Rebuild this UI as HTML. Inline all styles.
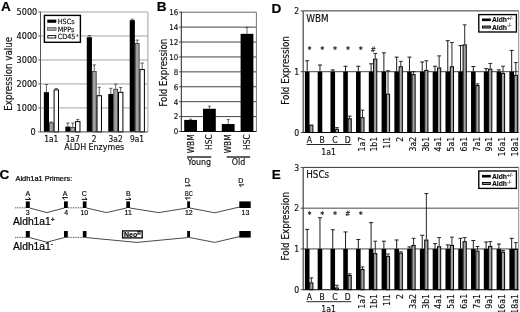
<!DOCTYPE html>
<html lang="en"><head><meta charset="utf-8"><title>Figure</title>
<style>html,body{margin:0;padding:0;background:#fff;}svg{display:block;}</style></head>
<body>
<svg style="will-change:transform;filter:grayscale(1) blur(0.35px)" width="520" height="312" viewBox="0 0 520 312">
<rect width="520" height="312" fill="#fff"/>
<line x1="40.50" y1="107.92" x2="147.90" y2="107.92" stroke="#a2a2a2" stroke-width="1.0"/>
<line x1="40.50" y1="83.94" x2="147.90" y2="83.94" stroke="#a2a2a2" stroke-width="1.0"/>
<line x1="40.50" y1="59.96" x2="147.90" y2="59.96" stroke="#a2a2a2" stroke-width="1.0"/>
<line x1="40.50" y1="35.98" x2="147.90" y2="35.98" stroke="#a2a2a2" stroke-width="1.0"/>
<line x1="40.50" y1="12.00" x2="147.90" y2="12.00" stroke="#a2a2a2" stroke-width="1.0"/>
<line x1="147.90" y1="12.00" x2="147.90" y2="131.90" stroke="#a2a2a2" stroke-width="1.0"/>
<line x1="40.50" y1="11.50" x2="40.50" y2="131.90" stroke="#555" stroke-width="1.0"/>
<line x1="38.00" y1="131.90" x2="40.50" y2="131.90" stroke="#666" stroke-width="0.9"/>
<text x="35.70" y="135.20" font-size="9" text-anchor="end" font-family='"DejaVu Sans Condensed", "DejaVu Sans", "Liberation Sans", sans-serif' font-weight="normal" fill="#111" stroke="#111" stroke-width="0.16">0</text>
<line x1="38.00" y1="107.92" x2="40.50" y2="107.92" stroke="#666" stroke-width="0.9"/>
<text x="37.20" y="111.22" font-size="9" text-anchor="end" font-family='"DejaVu Sans Condensed", "DejaVu Sans", "Liberation Sans", sans-serif' font-weight="normal" fill="#111" stroke="#111" stroke-width="0.16">1000</text>
<line x1="38.00" y1="83.94" x2="40.50" y2="83.94" stroke="#666" stroke-width="0.9"/>
<text x="37.20" y="87.24" font-size="9" text-anchor="end" font-family='"DejaVu Sans Condensed", "DejaVu Sans", "Liberation Sans", sans-serif' font-weight="normal" fill="#111" stroke="#111" stroke-width="0.16">2000</text>
<line x1="38.00" y1="59.96" x2="40.50" y2="59.96" stroke="#666" stroke-width="0.9"/>
<text x="37.20" y="63.26" font-size="9" text-anchor="end" font-family='"DejaVu Sans Condensed", "DejaVu Sans", "Liberation Sans", sans-serif' font-weight="normal" fill="#111" stroke="#111" stroke-width="0.16">3000</text>
<line x1="38.00" y1="35.98" x2="40.50" y2="35.98" stroke="#666" stroke-width="0.9"/>
<text x="37.20" y="39.28" font-size="9" text-anchor="end" font-family='"DejaVu Sans Condensed", "DejaVu Sans", "Liberation Sans", sans-serif' font-weight="normal" fill="#111" stroke="#111" stroke-width="0.16">4000</text>
<line x1="38.00" y1="12.00" x2="40.50" y2="12.00" stroke="#666" stroke-width="0.9"/>
<text x="37.20" y="15.30" font-size="9" text-anchor="end" font-family='"DejaVu Sans Condensed", "DejaVu Sans", "Liberation Sans", sans-serif' font-weight="normal" fill="#111" stroke="#111" stroke-width="0.16">5000</text>
<rect x="43.85" y="92.17" width="5.15" height="39.73" fill="#000" stroke="none" stroke-width="0"/>
<line x1="46.43" y1="92.17" x2="46.43" y2="84.49" stroke="#3a3a3a" stroke-width="0.8"/>
<line x1="44.83" y1="84.49" x2="48.03" y2="84.49" stroke="#3a3a3a" stroke-width="0.8"/>
<rect x="49.35" y="122.85" width="3.90" height="9.05" fill="#a0a0a0" stroke="#222" stroke-width="0.7"/>
<line x1="51.30" y1="122.50" x2="51.30" y2="122.02" stroke="#3a3a3a" stroke-width="0.8"/>
<line x1="49.70" y1="122.02" x2="52.90" y2="122.02" stroke="#3a3a3a" stroke-width="0.8"/>
<rect x="54.10" y="89.96" width="4.40" height="41.94" fill="#fff" stroke="#000" stroke-width="1.0"/>
<line x1="56.30" y1="89.46" x2="56.30" y2="88.50" stroke="#3a3a3a" stroke-width="0.8"/>
<line x1="54.70" y1="88.50" x2="57.90" y2="88.50" stroke="#3a3a3a" stroke-width="0.8"/>
<text x="51.20" y="141.60" font-size="8.3" text-anchor="middle" font-family='"DejaVu Sans Condensed", "DejaVu Sans", "Liberation Sans", sans-serif' font-weight="normal" fill="#111" stroke="#111" stroke-width="0.16">1a1</text>
<rect x="65.32" y="126.58" width="5.15" height="5.32" fill="#000" stroke="none" stroke-width="0"/>
<line x1="67.89" y1="126.58" x2="67.89" y2="122.98" stroke="#3a3a3a" stroke-width="0.8"/>
<line x1="66.30" y1="122.98" x2="69.49" y2="122.98" stroke="#3a3a3a" stroke-width="0.8"/>
<rect x="70.82" y="127.45" width="3.90" height="4.45" fill="#a0a0a0" stroke="#222" stroke-width="0.7"/>
<line x1="72.77" y1="127.10" x2="72.77" y2="123.03" stroke="#3a3a3a" stroke-width="0.8"/>
<line x1="71.17" y1="123.03" x2="74.37" y2="123.03" stroke="#3a3a3a" stroke-width="0.8"/>
<rect x="75.57" y="121.61" width="4.40" height="10.29" fill="#fff" stroke="#000" stroke-width="1.0"/>
<line x1="77.77" y1="121.11" x2="77.77" y2="119.43" stroke="#3a3a3a" stroke-width="0.8"/>
<line x1="76.17" y1="119.43" x2="79.37" y2="119.43" stroke="#3a3a3a" stroke-width="0.8"/>
<text x="72.67" y="141.60" font-size="8.3" text-anchor="middle" font-family='"DejaVu Sans Condensed", "DejaVu Sans", "Liberation Sans", sans-serif' font-weight="normal" fill="#111" stroke="#111" stroke-width="0.16">1a7</text>
<rect x="86.79" y="37.18" width="5.15" height="94.72" fill="#000" stroke="none" stroke-width="0"/>
<line x1="89.36" y1="37.18" x2="89.36" y2="35.50" stroke="#3a3a3a" stroke-width="0.8"/>
<line x1="87.77" y1="35.50" x2="90.96" y2="35.50" stroke="#3a3a3a" stroke-width="0.8"/>
<rect x="92.29" y="71.46" width="3.90" height="60.44" fill="#a0a0a0" stroke="#222" stroke-width="0.7"/>
<line x1="94.24" y1="71.11" x2="94.24" y2="64.88" stroke="#3a3a3a" stroke-width="0.8"/>
<line x1="92.64" y1="64.88" x2="95.84" y2="64.88" stroke="#3a3a3a" stroke-width="0.8"/>
<rect x="97.04" y="95.71" width="4.40" height="36.19" fill="#fff" stroke="#000" stroke-width="1.0"/>
<line x1="99.24" y1="95.21" x2="99.24" y2="87.30" stroke="#3a3a3a" stroke-width="0.8"/>
<line x1="97.64" y1="87.30" x2="100.84" y2="87.30" stroke="#3a3a3a" stroke-width="0.8"/>
<text x="94.14" y="141.60" font-size="8.3" text-anchor="middle" font-family='"DejaVu Sans Condensed", "DejaVu Sans", "Liberation Sans", sans-serif' font-weight="normal" fill="#111" stroke="#111" stroke-width="0.16">2</text>
<rect x="108.26" y="93.96" width="5.15" height="37.94" fill="#000" stroke="none" stroke-width="0"/>
<line x1="110.83" y1="93.96" x2="110.83" y2="88.33" stroke="#3a3a3a" stroke-width="0.8"/>
<line x1="109.23" y1="88.33" x2="112.43" y2="88.33" stroke="#3a3a3a" stroke-width="0.8"/>
<rect x="113.76" y="89.21" width="3.90" height="42.69" fill="#a0a0a0" stroke="#222" stroke-width="0.7"/>
<line x1="115.71" y1="88.86" x2="115.71" y2="84.06" stroke="#3a3a3a" stroke-width="0.8"/>
<line x1="114.11" y1="84.06" x2="117.31" y2="84.06" stroke="#3a3a3a" stroke-width="0.8"/>
<rect x="118.51" y="92.35" width="4.40" height="39.55" fill="#fff" stroke="#000" stroke-width="1.0"/>
<line x1="120.71" y1="91.85" x2="120.71" y2="87.54" stroke="#3a3a3a" stroke-width="0.8"/>
<line x1="119.11" y1="87.54" x2="122.31" y2="87.54" stroke="#3a3a3a" stroke-width="0.8"/>
<text x="115.61" y="141.60" font-size="8.3" text-anchor="middle" font-family='"DejaVu Sans Condensed", "DejaVu Sans", "Liberation Sans", sans-serif' font-weight="normal" fill="#111" stroke="#111" stroke-width="0.16">3a2</text>
<rect x="129.73" y="20.15" width="5.15" height="111.75" fill="#000" stroke="none" stroke-width="0"/>
<line x1="132.30" y1="20.15" x2="132.30" y2="19.19" stroke="#3a3a3a" stroke-width="0.8"/>
<line x1="130.70" y1="19.19" x2="133.90" y2="19.19" stroke="#3a3a3a" stroke-width="0.8"/>
<rect x="135.23" y="43.52" width="3.90" height="88.38" fill="#a0a0a0" stroke="#222" stroke-width="0.7"/>
<line x1="137.18" y1="43.17" x2="137.18" y2="40.06" stroke="#3a3a3a" stroke-width="0.8"/>
<line x1="135.58" y1="40.06" x2="138.78" y2="40.06" stroke="#3a3a3a" stroke-width="0.8"/>
<rect x="139.98" y="69.57" width="4.40" height="62.33" fill="#fff" stroke="#000" stroke-width="1.0"/>
<line x1="142.18" y1="69.07" x2="142.18" y2="63.08" stroke="#3a3a3a" stroke-width="0.8"/>
<line x1="140.58" y1="63.08" x2="143.78" y2="63.08" stroke="#3a3a3a" stroke-width="0.8"/>
<text x="137.08" y="141.60" font-size="8.3" text-anchor="middle" font-family='"DejaVu Sans Condensed", "DejaVu Sans", "Liberation Sans", sans-serif' font-weight="normal" fill="#111" stroke="#111" stroke-width="0.16">9a1</text>
<line x1="40.00" y1="131.90" x2="147.90" y2="131.90" stroke="#444" stroke-width="1"/>
<text x="94.20" y="149.60" font-size="8.8" text-anchor="middle" font-family='"DejaVu Sans Condensed", "DejaVu Sans", "Liberation Sans", sans-serif' font-weight="normal" fill="#111" stroke="#111" stroke-width="0.16">ALDH Enzymes</text>
<text x="11.90" y="73.80" font-size="9.7" text-anchor="middle" font-family='"DejaVu Sans Condensed", "DejaVu Sans", "Liberation Sans", sans-serif' font-weight="normal" fill="#111" transform="rotate(-90 11.90 73.80)" stroke="#111" stroke-width="0.16">Expression value</text>
<rect x="44.4" y="15.4" width="36.0" height="26.9" fill="#fff" stroke="#000" stroke-width="1.4"/>
<rect x="47.30" y="19.60" width="9.00" height="3.20" fill="#000" stroke="none" stroke-width="0"/>
<text x="57.70" y="23.80" font-size="7.2" text-anchor="start" font-family='"DejaVu Sans Condensed", "DejaVu Sans", "Liberation Sans", sans-serif' font-weight="normal" fill="#111" stroke="#111" stroke-width="0.16">HSCs</text>
<rect x="47.50" y="27.60" width="8.60" height="2.80" fill="#a0a0a0" stroke="#444" stroke-width="0.6"/>
<text x="57.70" y="31.60" font-size="7.2" text-anchor="start" font-family='"DejaVu Sans Condensed", "DejaVu Sans", "Liberation Sans", sans-serif' font-weight="normal" fill="#111" stroke="#111" stroke-width="0.16">MPPs</text>
<rect x="47.80" y="35.60" width="8.00" height="2.40" fill="#fff" stroke="#000" stroke-width="0.9"/>
<text x="57.70" y="39.40" font-size="7.2" text-anchor="start" font-family='"DejaVu Sans Condensed", "DejaVu Sans", "Liberation Sans", sans-serif' font-weight="normal" fill="#111" stroke="#111" stroke-width="0.16">CD45<tspan dy="-2.2" font-size="4.5">+</tspan></text>
<text x="0.90" y="10.80" font-size="13.6" text-anchor="start" font-family='"Liberation Sans", "DejaVu Sans", sans-serif' font-weight="bold" fill="#000" stroke="#000" stroke-width="0.16">A</text>
<line x1="181.30" y1="116.59" x2="256.40" y2="116.59" stroke="#303030" stroke-width="0.9"/>
<line x1="181.30" y1="101.67" x2="256.40" y2="101.67" stroke="#303030" stroke-width="0.9"/>
<line x1="181.30" y1="86.76" x2="256.40" y2="86.76" stroke="#303030" stroke-width="0.9"/>
<line x1="181.30" y1="71.85" x2="256.40" y2="71.85" stroke="#303030" stroke-width="0.9"/>
<line x1="181.30" y1="56.94" x2="256.40" y2="56.94" stroke="#303030" stroke-width="0.9"/>
<line x1="181.30" y1="42.03" x2="256.40" y2="42.03" stroke="#303030" stroke-width="0.9"/>
<line x1="181.30" y1="27.11" x2="256.40" y2="27.11" stroke="#303030" stroke-width="0.9"/>
<line x1="181.30" y1="12.20" x2="256.40" y2="12.20" stroke="#666" stroke-width="1.0"/>
<line x1="256.40" y1="12.20" x2="256.40" y2="131.50" stroke="#777" stroke-width="1.0"/>
<line x1="181.30" y1="11.70" x2="181.30" y2="131.50" stroke="#222" stroke-width="1.0"/>
<line x1="180.80" y1="131.50" x2="256.40" y2="131.50" stroke="#111" stroke-width="1.0"/>
<line x1="178.80" y1="131.50" x2="181.30" y2="131.50" stroke="#303030" stroke-width="0.8"/>
<text x="178.30" y="134.40" font-size="7.9" text-anchor="end" font-family='"DejaVu Sans Condensed", "DejaVu Sans", "Liberation Sans", sans-serif' font-weight="normal" fill="#111" stroke="#111" stroke-width="0.16">0</text>
<line x1="178.80" y1="116.59" x2="181.30" y2="116.59" stroke="#303030" stroke-width="0.8"/>
<text x="178.30" y="119.49" font-size="7.9" text-anchor="end" font-family='"DejaVu Sans Condensed", "DejaVu Sans", "Liberation Sans", sans-serif' font-weight="normal" fill="#111" stroke="#111" stroke-width="0.16">2</text>
<line x1="178.80" y1="101.67" x2="181.30" y2="101.67" stroke="#303030" stroke-width="0.8"/>
<text x="178.30" y="104.58" font-size="7.9" text-anchor="end" font-family='"DejaVu Sans Condensed", "DejaVu Sans", "Liberation Sans", sans-serif' font-weight="normal" fill="#111" stroke="#111" stroke-width="0.16">4</text>
<line x1="178.80" y1="86.76" x2="181.30" y2="86.76" stroke="#303030" stroke-width="0.8"/>
<text x="178.30" y="89.66" font-size="7.9" text-anchor="end" font-family='"DejaVu Sans Condensed", "DejaVu Sans", "Liberation Sans", sans-serif' font-weight="normal" fill="#111" stroke="#111" stroke-width="0.16">6</text>
<line x1="178.80" y1="71.85" x2="181.30" y2="71.85" stroke="#303030" stroke-width="0.8"/>
<text x="178.30" y="74.75" font-size="7.9" text-anchor="end" font-family='"DejaVu Sans Condensed", "DejaVu Sans", "Liberation Sans", sans-serif' font-weight="normal" fill="#111" stroke="#111" stroke-width="0.16">8</text>
<line x1="178.80" y1="56.94" x2="181.30" y2="56.94" stroke="#303030" stroke-width="0.8"/>
<text x="178.30" y="59.84" font-size="7.9" text-anchor="end" font-family='"DejaVu Sans Condensed", "DejaVu Sans", "Liberation Sans", sans-serif' font-weight="normal" fill="#111" stroke="#111" stroke-width="0.16">10</text>
<line x1="178.80" y1="42.03" x2="181.30" y2="42.03" stroke="#303030" stroke-width="0.8"/>
<text x="178.30" y="44.93" font-size="7.9" text-anchor="end" font-family='"DejaVu Sans Condensed", "DejaVu Sans", "Liberation Sans", sans-serif' font-weight="normal" fill="#111" stroke="#111" stroke-width="0.16">12</text>
<line x1="178.80" y1="27.11" x2="181.30" y2="27.11" stroke="#303030" stroke-width="0.8"/>
<text x="178.30" y="30.01" font-size="7.9" text-anchor="end" font-family='"DejaVu Sans Condensed", "DejaVu Sans", "Liberation Sans", sans-serif' font-weight="normal" fill="#111" stroke="#111" stroke-width="0.16">14</text>
<line x1="178.80" y1="12.20" x2="181.30" y2="12.20" stroke="#303030" stroke-width="0.8"/>
<text x="178.30" y="15.10" font-size="7.9" text-anchor="end" font-family='"DejaVu Sans Condensed", "DejaVu Sans", "Liberation Sans", sans-serif' font-weight="normal" fill="#111" stroke="#111" stroke-width="0.16">16</text>
<rect x="184.20" y="119.94" width="12.80" height="11.56" fill="#000" stroke="none" stroke-width="0"/>
<line x1="190.60" y1="119.94" x2="190.60" y2="119.20" stroke="#222" stroke-width="0.7"/>
<line x1="189.10" y1="119.20" x2="192.10" y2="119.20" stroke="#222" stroke-width="0.7"/>
<text x="193.60" y="134.30" font-size="8.3" text-anchor="end" font-family='"DejaVu Sans Condensed", "DejaVu Sans", "Liberation Sans", sans-serif' font-weight="normal" fill="#111" transform="rotate(-90 193.60 134.30)" stroke="#111" stroke-width="0.16">WBM</text>
<rect x="203.00" y="108.76" width="12.80" height="22.74" fill="#000" stroke="none" stroke-width="0"/>
<line x1="209.40" y1="108.76" x2="209.40" y2="106.15" stroke="#222" stroke-width="0.7"/>
<line x1="207.90" y1="106.15" x2="210.90" y2="106.15" stroke="#222" stroke-width="0.7"/>
<text x="212.40" y="134.30" font-size="8.3" text-anchor="end" font-family='"DejaVu Sans Condensed", "DejaVu Sans", "Liberation Sans", sans-serif' font-weight="normal" fill="#111" transform="rotate(-90 212.40 134.30)" stroke="#111" stroke-width="0.16">HSC</text>
<rect x="221.80" y="124.04" width="12.80" height="7.46" fill="#000" stroke="none" stroke-width="0"/>
<line x1="228.20" y1="124.04" x2="228.20" y2="119.57" stroke="#222" stroke-width="0.7"/>
<line x1="226.70" y1="119.57" x2="229.70" y2="119.57" stroke="#222" stroke-width="0.7"/>
<text x="231.20" y="134.30" font-size="8.3" text-anchor="end" font-family='"DejaVu Sans Condensed", "DejaVu Sans", "Liberation Sans", sans-serif' font-weight="normal" fill="#111" transform="rotate(-90 231.20 134.30)" stroke="#111" stroke-width="0.16">WBM</text>
<rect x="240.60" y="33.82" width="12.80" height="97.68" fill="#000" stroke="none" stroke-width="0"/>
<line x1="247.00" y1="33.82" x2="247.00" y2="27.49" stroke="#222" stroke-width="0.7"/>
<line x1="245.50" y1="27.49" x2="248.50" y2="27.49" stroke="#222" stroke-width="0.7"/>
<text x="250.00" y="134.30" font-size="8.3" text-anchor="end" font-family='"DejaVu Sans Condensed", "DejaVu Sans", "Liberation Sans", sans-serif' font-weight="normal" fill="#111" transform="rotate(-90 250.00 134.30)" stroke="#111" stroke-width="0.16">HSC</text>
<text x="167.20" y="72.60" font-size="9.7" text-anchor="middle" font-family='"DejaVu Sans Condensed", "DejaVu Sans", "Liberation Sans", sans-serif' font-weight="normal" fill="#111" transform="rotate(-90 167.20 72.60)" stroke="#111" stroke-width="0.16">Fold Expression</text>
<line x1="187.00" y1="157.00" x2="211.30" y2="157.00" stroke="#000" stroke-width="1.25"/>
<line x1="226.80" y1="157.00" x2="250.00" y2="157.00" stroke="#000" stroke-width="1.25"/>
<text x="199.30" y="165.00" font-size="8.8" text-anchor="middle" font-family='"DejaVu Sans Condensed", "DejaVu Sans", "Liberation Sans", sans-serif' font-weight="normal" fill="#111" stroke="#111" stroke-width="0.16">Young</text>
<text x="238.50" y="165.00" font-size="8.8" text-anchor="middle" font-family='"DejaVu Sans Condensed", "DejaVu Sans", "Liberation Sans", sans-serif' font-weight="normal" fill="#111" stroke="#111" stroke-width="0.16">Old</text>
<text x="156.80" y="10.80" font-size="13.6" text-anchor="start" font-family='"Liberation Sans", "DejaVu Sans", sans-serif' font-weight="bold" fill="#000" stroke="#000" stroke-width="0.16">B</text>
<text x="-0.40" y="178.80" font-size="13.6" text-anchor="start" font-family='"Liberation Sans", "DejaVu Sans", sans-serif' font-weight="bold" fill="#000" stroke="#000" stroke-width="0.16">C</text>
<text x="15.50" y="180.80" font-size="7.4" text-anchor="start" font-family='"Liberation Sans", "DejaVu Sans", sans-serif' font-weight="normal" fill="#000" stroke="#000" stroke-width="0.22">Aldh1a1 Primers:</text>
<line x1="15.20" y1="207.80" x2="26.00" y2="207.80" stroke="#2a2a2a" stroke-width="0.9" stroke-dasharray="0.9 0.8"/>
<line x1="67.90" y1="207.80" x2="83.00" y2="207.80" stroke="#2a2a2a" stroke-width="0.9" stroke-dasharray="0.9 0.8"/>
<polyline points="29.6,208.0 46.9,212.6 64.2,208.0" fill="none" stroke="#1a1a1a" stroke-width="0.8"/>
<polyline points="86.4,208.0 106.5,212.6 126.5,208.0" fill="none" stroke="#1a1a1a" stroke-width="0.8"/>
<polyline points="129.8,208.0 158.6,212.6 187.4,208.0" fill="none" stroke="#1a1a1a" stroke-width="0.8"/>
<polyline points="189.8,208.0 214.7,212.8 239.6,207.0" fill="none" stroke="#1a1a1a" stroke-width="0.8"/>
<rect x="25.80" y="201.40" width="4.00" height="6.60" fill="#000" stroke="none" stroke-width="0"/>
<rect x="64.00" y="201.40" width="3.80" height="6.60" fill="#000" stroke="none" stroke-width="0"/>
<rect x="82.80" y="201.40" width="3.70" height="6.60" fill="#000" stroke="none" stroke-width="0"/>
<rect x="126.30" y="201.40" width="3.70" height="6.60" fill="#000" stroke="none" stroke-width="0"/>
<rect x="187.20" y="201.40" width="2.80" height="6.60" fill="#000" stroke="none" stroke-width="0"/>
<rect x="239.30" y="201.40" width="11.40" height="6.60" fill="#000" stroke="none" stroke-width="0"/>
<line x1="15.20" y1="237.40" x2="26.00" y2="237.40" stroke="#2a2a2a" stroke-width="0.9" stroke-dasharray="0.9 0.8"/>
<line x1="67.90" y1="237.40" x2="83.00" y2="237.40" stroke="#2a2a2a" stroke-width="0.9" stroke-dasharray="0.9 0.8"/>
<polyline points="29.6,237.6 46.9,242.2 64.2,237.6" fill="none" stroke="#1a1a1a" stroke-width="0.8"/>
<polyline points="86.4,237.6 136.9,242.4 187.4,237.6" fill="none" stroke="#1a1a1a" stroke-width="0.8"/>
<polyline points="189.8,237.6 214.7,242.4 239.6,236.6" fill="none" stroke="#1a1a1a" stroke-width="0.8"/>
<rect x="25.80" y="231.00" width="4.00" height="6.60" fill="#000" stroke="none" stroke-width="0"/>
<rect x="64.00" y="231.00" width="3.80" height="6.60" fill="#000" stroke="none" stroke-width="0"/>
<rect x="82.80" y="231.00" width="3.70" height="6.60" fill="#000" stroke="none" stroke-width="0"/>
<rect x="187.20" y="231.00" width="2.80" height="6.60" fill="#000" stroke="none" stroke-width="0"/>
<rect x="239.30" y="231.00" width="11.40" height="6.60" fill="#000" stroke="none" stroke-width="0"/>
<text x="27.80" y="215.20" font-size="7.0" text-anchor="middle" font-family='"Liberation Sans", "DejaVu Sans", sans-serif' font-weight="normal" fill="#000" stroke="#000" stroke-width="0.16">3</text>
<text x="66.20" y="215.20" font-size="7.0" text-anchor="middle" font-family='"Liberation Sans", "DejaVu Sans", sans-serif' font-weight="normal" fill="#000" stroke="#000" stroke-width="0.16">4</text>
<text x="84.30" y="215.20" font-size="7.0" text-anchor="middle" font-family='"Liberation Sans", "DejaVu Sans", sans-serif' font-weight="normal" fill="#000" stroke="#000" stroke-width="0.16">10</text>
<text x="128.20" y="215.20" font-size="7.0" text-anchor="middle" font-family='"Liberation Sans", "DejaVu Sans", sans-serif' font-weight="normal" fill="#000" stroke="#000" stroke-width="0.16">11</text>
<text x="188.80" y="215.20" font-size="7.0" text-anchor="middle" font-family='"Liberation Sans", "DejaVu Sans", sans-serif' font-weight="normal" fill="#000" stroke="#000" stroke-width="0.16">12</text>
<text x="245.40" y="215.20" font-size="7.0" text-anchor="middle" font-family='"Liberation Sans", "DejaVu Sans", sans-serif' font-weight="normal" fill="#000" stroke="#000" stroke-width="0.16">13</text>
<text x="27.90" y="195.80" font-size="7.0" text-anchor="middle" font-family='"Liberation Sans", "DejaVu Sans", sans-serif' font-weight="normal" fill="#000" stroke="#000" stroke-width="0.16">A</text>
<polyline points="25.2,199.4 30.6,199.4 28.4,197.3" fill="none" stroke="#000" stroke-width="0.95" stroke-linejoin="miter"/>
<text x="65.10" y="195.80" font-size="7.0" text-anchor="middle" font-family='"Liberation Sans", "DejaVu Sans", sans-serif' font-weight="normal" fill="#000" stroke="#000" stroke-width="0.16">A</text>
<polyline points="67.8,197.6 62.4,197.6 64.5,199.6" fill="none" stroke="#000" stroke-width="0.95" stroke-linejoin="miter"/>
<text x="84.40" y="195.80" font-size="7.0" text-anchor="middle" font-family='"Liberation Sans", "DejaVu Sans", sans-serif' font-weight="normal" fill="#000" stroke="#000" stroke-width="0.16">C</text>
<polyline points="81.7,199.4 87.1,199.4 84.9,197.3" fill="none" stroke="#000" stroke-width="0.95" stroke-linejoin="miter"/>
<text x="128.30" y="195.80" font-size="7.0" text-anchor="middle" font-family='"Liberation Sans", "DejaVu Sans", sans-serif' font-weight="normal" fill="#000" stroke="#000" stroke-width="0.16">B</text>
<polyline points="125.6,199.4 131.0,199.4 128.8,197.3" fill="none" stroke="#000" stroke-width="0.95" stroke-linejoin="miter"/>
<text x="187.20" y="182.60" font-size="7.0" text-anchor="middle" font-family='"Liberation Sans", "DejaVu Sans", sans-serif' font-weight="normal" fill="#000" stroke="#000" stroke-width="0.16">D</text>
<polyline points="185.0,185.8 190.4,185.8 188.2,183.7" fill="none" stroke="#000" stroke-width="0.95" stroke-linejoin="miter"/>
<text x="188.90" y="195.80" font-size="7.2" text-anchor="middle" font-family='"Liberation Sans", "DejaVu Sans", sans-serif' font-weight="normal" fill="#000" textLength="7.8" lengthAdjust="spacingAndGlyphs" stroke="#000" stroke-width="0.16">BC</text>
<polyline points="190.5,198.0 185.3,198.0 187.4,200.0" fill="none" stroke="#000" stroke-width="0.95" stroke-linejoin="miter"/>
<text x="240.80" y="182.60" font-size="7.0" text-anchor="middle" font-family='"Liberation Sans", "DejaVu Sans", sans-serif' font-weight="normal" fill="#000" stroke="#000" stroke-width="0.16">D</text>
<polyline points="244.0,184.9 239.2,184.9 241.3,186.9" fill="none" stroke="#000" stroke-width="0.95" stroke-linejoin="miter"/>
<text x="13.00" y="224.90" font-size="10.3" text-anchor="start" font-family='"Liberation Sans", "DejaVu Sans", sans-serif' font-weight="normal" fill="#000" stroke="#000" stroke-width="0.22">Aldh1a1<tspan dy="-3.2" font-size="7">+</tspan></text>
<text x="13.00" y="249.90" font-size="10.3" text-anchor="start" font-family='"Liberation Sans", "DejaVu Sans", sans-serif' font-weight="normal" fill="#000" stroke="#000" stroke-width="0.22">Aldh1a1<tspan dy="-3.6" font-size="7">-</tspan></text>
<rect x="122.6" y="230.9" width="19.6" height="7.0" fill="#fff" stroke="#000" stroke-width="1.3"/>
<text x="132.40" y="237.00" font-size="7.0" text-anchor="middle" font-family='"Liberation Sans", "DejaVu Sans", sans-serif' font-weight="bold" fill="#000" stroke="#000" stroke-width="0.16">Neo<tspan dy="-1.6" font-size="5">R</tspan></text>
<line x1="303.20" y1="71.70" x2="518.70" y2="71.70" stroke="#333" stroke-width="0.9"/>
<line x1="303.20" y1="10.90" x2="518.70" y2="10.90" stroke="#333" stroke-width="1"/>
<line x1="303.20" y1="10.90" x2="303.20" y2="132.50" stroke="#444" stroke-width="1.2"/>
<line x1="518.70" y1="10.90" x2="518.70" y2="132.50" stroke="#8a8a8a" stroke-width="1.0"/>
<line x1="300.70" y1="132.50" x2="303.20" y2="132.50" stroke="#333" stroke-width="0.9"/>
<text x="299.20" y="135.60" font-size="8.6" text-anchor="end" font-family='"DejaVu Sans Condensed", "DejaVu Sans", "Liberation Sans", sans-serif' font-weight="normal" fill="#111" stroke="#111" stroke-width="0.16">0</text>
<line x1="300.70" y1="71.70" x2="303.20" y2="71.70" stroke="#333" stroke-width="0.9"/>
<text x="299.20" y="74.80" font-size="8.6" text-anchor="end" font-family='"DejaVu Sans Condensed", "DejaVu Sans", "Liberation Sans", sans-serif' font-weight="normal" fill="#111" stroke="#111" stroke-width="0.16">1</text>
<line x1="300.70" y1="10.90" x2="303.20" y2="10.90" stroke="#333" stroke-width="0.9"/>
<text x="299.20" y="14.00" font-size="8.6" text-anchor="end" font-family='"DejaVu Sans Condensed", "DejaVu Sans", "Liberation Sans", sans-serif' font-weight="normal" fill="#111" stroke="#111" stroke-width="0.16">2</text>
<rect x="304.90" y="71.70" width="4.60" height="60.80" fill="#000" stroke="none" stroke-width="0"/>
<line x1="307.20" y1="71.70" x2="307.20" y2="60.76" stroke="#1c1c1c" stroke-width="1.0"/>
<line x1="305.20" y1="60.76" x2="309.20" y2="60.76" stroke="#1c1c1c" stroke-width="1.0"/>
<rect x="309.70" y="125.10" width="3.20" height="7.40" fill="#a4a4a4" stroke="#000" stroke-width="1.0"/>
<text x="309.40" y="142.90" font-size="8.5" text-anchor="middle" font-family='"DejaVu Sans Condensed", "DejaVu Sans", "Liberation Sans", sans-serif' font-weight="normal" fill="#111" stroke="#111" stroke-width="0.16">A</text>
<rect x="317.68" y="71.70" width="4.60" height="60.80" fill="#000" stroke="none" stroke-width="0"/>
<line x1="319.98" y1="71.70" x2="319.98" y2="65.01" stroke="#1c1c1c" stroke-width="1.0"/>
<line x1="317.98" y1="65.01" x2="321.98" y2="65.01" stroke="#1c1c1c" stroke-width="1.0"/>
<text x="322.18" y="142.90" font-size="8.5" text-anchor="middle" font-family='"DejaVu Sans Condensed", "DejaVu Sans", "Liberation Sans", sans-serif' font-weight="normal" fill="#111" stroke="#111" stroke-width="0.16">B</text>
<rect x="330.46" y="71.70" width="4.60" height="60.80" fill="#000" stroke="none" stroke-width="0"/>
<line x1="332.76" y1="71.70" x2="332.76" y2="69.88" stroke="#1c1c1c" stroke-width="1.0"/>
<line x1="330.76" y1="69.88" x2="334.76" y2="69.88" stroke="#1c1c1c" stroke-width="1.0"/>
<rect x="335.26" y="129.35" width="3.20" height="3.15" fill="#a4a4a4" stroke="#000" stroke-width="1.0"/>
<line x1="336.91" y1="128.85" x2="336.91" y2="127.64" stroke="#2a2a2a" stroke-width="1.0"/>
<line x1="335.01" y1="127.64" x2="338.81" y2="127.64" stroke="#2a2a2a" stroke-width="1.0"/>
<text x="334.96" y="142.90" font-size="8.5" text-anchor="middle" font-family='"DejaVu Sans Condensed", "DejaVu Sans", "Liberation Sans", sans-serif' font-weight="normal" fill="#111" stroke="#111" stroke-width="0.16">C</text>
<rect x="343.24" y="71.70" width="4.60" height="60.80" fill="#000" stroke="none" stroke-width="0"/>
<line x1="345.54" y1="71.70" x2="345.54" y2="66.23" stroke="#1c1c1c" stroke-width="1.0"/>
<line x1="343.54" y1="66.23" x2="347.54" y2="66.23" stroke="#1c1c1c" stroke-width="1.0"/>
<rect x="348.04" y="118.77" width="3.20" height="13.73" fill="#a4a4a4" stroke="#000" stroke-width="1.0"/>
<line x1="349.69" y1="118.27" x2="349.69" y2="116.08" stroke="#2a2a2a" stroke-width="1.0"/>
<line x1="347.79" y1="116.08" x2="351.59" y2="116.08" stroke="#2a2a2a" stroke-width="1.0"/>
<text x="347.74" y="142.90" font-size="8.5" text-anchor="middle" font-family='"DejaVu Sans Condensed", "DejaVu Sans", "Liberation Sans", sans-serif' font-weight="normal" fill="#111" stroke="#111" stroke-width="0.16">D</text>
<rect x="356.02" y="71.70" width="4.60" height="60.80" fill="#000" stroke="none" stroke-width="0"/>
<line x1="358.32" y1="71.70" x2="358.32" y2="66.23" stroke="#1c1c1c" stroke-width="1.0"/>
<line x1="356.32" y1="66.23" x2="360.32" y2="66.23" stroke="#1c1c1c" stroke-width="1.0"/>
<rect x="360.82" y="117.68" width="3.20" height="14.82" fill="#a4a4a4" stroke="#000" stroke-width="1.0"/>
<line x1="362.47" y1="117.18" x2="362.47" y2="110.19" stroke="#2a2a2a" stroke-width="1.0"/>
<line x1="360.57" y1="110.19" x2="364.37" y2="110.19" stroke="#2a2a2a" stroke-width="1.0"/>
<text x="364.62" y="136.70" font-size="8.7" text-anchor="end" font-family='"DejaVu Sans Condensed", "DejaVu Sans", "Liberation Sans", sans-serif' font-weight="normal" fill="#111" transform="rotate(-90 364.62 136.70)" stroke="#111" stroke-width="0.16">1a7</text>
<rect x="368.80" y="71.70" width="4.60" height="60.80" fill="#000" stroke="none" stroke-width="0"/>
<line x1="371.10" y1="71.70" x2="371.10" y2="63.80" stroke="#1c1c1c" stroke-width="1.0"/>
<line x1="369.10" y1="63.80" x2="373.10" y2="63.80" stroke="#1c1c1c" stroke-width="1.0"/>
<rect x="373.60" y="59.13" width="3.20" height="73.37" fill="#a4a4a4" stroke="#000" stroke-width="1.0"/>
<line x1="375.25" y1="58.63" x2="375.25" y2="53.46" stroke="#2a2a2a" stroke-width="1.0"/>
<line x1="373.35" y1="53.46" x2="377.15" y2="53.46" stroke="#2a2a2a" stroke-width="1.0"/>
<text x="377.40" y="136.70" font-size="8.7" text-anchor="end" font-family='"DejaVu Sans Condensed", "DejaVu Sans", "Liberation Sans", sans-serif' font-weight="normal" fill="#111" transform="rotate(-90 377.40 136.70)" stroke="#111" stroke-width="0.16">1b1</text>
<rect x="381.58" y="71.70" width="4.60" height="60.80" fill="#000" stroke="none" stroke-width="0"/>
<line x1="383.88" y1="71.70" x2="383.88" y2="52.85" stroke="#1c1c1c" stroke-width="1.0"/>
<line x1="381.88" y1="52.85" x2="385.88" y2="52.85" stroke="#1c1c1c" stroke-width="1.0"/>
<rect x="386.38" y="94.09" width="3.20" height="38.41" fill="#a4a4a4" stroke="#000" stroke-width="1.0"/>
<line x1="388.03" y1="93.59" x2="388.03" y2="70.79" stroke="#2a2a2a" stroke-width="1.0"/>
<line x1="386.13" y1="70.79" x2="389.93" y2="70.79" stroke="#2a2a2a" stroke-width="1.0"/>
<text x="390.18" y="136.70" font-size="8.7" text-anchor="end" font-family='"DejaVu Sans Condensed", "DejaVu Sans", "Liberation Sans", sans-serif' font-weight="normal" fill="#111" transform="rotate(-90 390.18 136.70)" stroke="#111" stroke-width="0.16">1l1</text>
<rect x="394.36" y="71.70" width="4.60" height="60.80" fill="#000" stroke="none" stroke-width="0"/>
<line x1="396.66" y1="71.70" x2="396.66" y2="57.11" stroke="#1c1c1c" stroke-width="1.0"/>
<line x1="394.66" y1="57.11" x2="398.66" y2="57.11" stroke="#1c1c1c" stroke-width="1.0"/>
<rect x="399.16" y="66.73" width="3.20" height="65.77" fill="#a4a4a4" stroke="#000" stroke-width="1.0"/>
<line x1="400.81" y1="66.23" x2="400.81" y2="61.36" stroke="#2a2a2a" stroke-width="1.0"/>
<line x1="398.91" y1="61.36" x2="402.71" y2="61.36" stroke="#2a2a2a" stroke-width="1.0"/>
<text x="402.96" y="136.70" font-size="8.7" text-anchor="end" font-family='"DejaVu Sans Condensed", "DejaVu Sans", "Liberation Sans", sans-serif' font-weight="normal" fill="#111" transform="rotate(-90 402.96 136.70)" stroke="#111" stroke-width="0.16">2</text>
<rect x="407.14" y="71.70" width="4.60" height="60.80" fill="#000" stroke="none" stroke-width="0"/>
<line x1="409.44" y1="71.70" x2="409.44" y2="57.11" stroke="#1c1c1c" stroke-width="1.0"/>
<line x1="407.44" y1="57.11" x2="411.44" y2="57.11" stroke="#1c1c1c" stroke-width="1.0"/>
<rect x="411.94" y="74.63" width="3.20" height="57.87" fill="#a4a4a4" stroke="#000" stroke-width="1.0"/>
<line x1="413.59" y1="74.13" x2="413.59" y2="71.70" stroke="#2a2a2a" stroke-width="1.0"/>
<line x1="411.69" y1="71.70" x2="415.49" y2="71.70" stroke="#2a2a2a" stroke-width="1.0"/>
<text x="415.74" y="136.70" font-size="8.7" text-anchor="end" font-family='"DejaVu Sans Condensed", "DejaVu Sans", "Liberation Sans", sans-serif' font-weight="normal" fill="#111" transform="rotate(-90 415.74 136.70)" stroke="#111" stroke-width="0.16">3a2</text>
<rect x="419.92" y="71.70" width="4.60" height="60.80" fill="#000" stroke="none" stroke-width="0"/>
<line x1="422.22" y1="71.70" x2="422.22" y2="61.97" stroke="#1c1c1c" stroke-width="1.0"/>
<line x1="420.22" y1="61.97" x2="424.22" y2="61.97" stroke="#1c1c1c" stroke-width="1.0"/>
<rect x="424.72" y="70.38" width="3.20" height="62.12" fill="#a4a4a4" stroke="#000" stroke-width="1.0"/>
<line x1="426.37" y1="69.88" x2="426.37" y2="60.76" stroke="#2a2a2a" stroke-width="1.0"/>
<line x1="424.47" y1="60.76" x2="428.27" y2="60.76" stroke="#2a2a2a" stroke-width="1.0"/>
<text x="428.52" y="136.70" font-size="8.7" text-anchor="end" font-family='"DejaVu Sans Condensed", "DejaVu Sans", "Liberation Sans", sans-serif' font-weight="normal" fill="#111" transform="rotate(-90 428.52 136.70)" stroke="#111" stroke-width="0.16">3b1</text>
<rect x="432.70" y="71.70" width="4.60" height="60.80" fill="#000" stroke="none" stroke-width="0"/>
<line x1="435.00" y1="71.70" x2="435.00" y2="66.23" stroke="#1c1c1c" stroke-width="1.0"/>
<line x1="433.00" y1="66.23" x2="437.00" y2="66.23" stroke="#1c1c1c" stroke-width="1.0"/>
<rect x="437.50" y="67.94" width="3.20" height="64.56" fill="#a4a4a4" stroke="#000" stroke-width="1.0"/>
<line x1="439.15" y1="67.44" x2="439.15" y2="55.89" stroke="#2a2a2a" stroke-width="1.0"/>
<line x1="437.25" y1="55.89" x2="441.05" y2="55.89" stroke="#2a2a2a" stroke-width="1.0"/>
<text x="441.30" y="136.70" font-size="8.7" text-anchor="end" font-family='"DejaVu Sans Condensed", "DejaVu Sans", "Liberation Sans", sans-serif' font-weight="normal" fill="#111" transform="rotate(-90 441.30 136.70)" stroke="#111" stroke-width="0.16">4a1</text>
<rect x="445.48" y="71.70" width="4.60" height="60.80" fill="#000" stroke="none" stroke-width="0"/>
<line x1="447.78" y1="71.70" x2="447.78" y2="40.69" stroke="#1c1c1c" stroke-width="1.0"/>
<line x1="445.78" y1="40.69" x2="449.78" y2="40.69" stroke="#1c1c1c" stroke-width="1.0"/>
<rect x="450.28" y="66.73" width="3.20" height="65.77" fill="#a4a4a4" stroke="#000" stroke-width="1.0"/>
<line x1="451.93" y1="66.23" x2="451.93" y2="42.52" stroke="#2a2a2a" stroke-width="1.0"/>
<line x1="450.03" y1="42.52" x2="453.83" y2="42.52" stroke="#2a2a2a" stroke-width="1.0"/>
<text x="454.08" y="136.70" font-size="8.7" text-anchor="end" font-family='"DejaVu Sans Condensed", "DejaVu Sans", "Liberation Sans", sans-serif' font-weight="normal" fill="#111" transform="rotate(-90 454.08 136.70)" stroke="#111" stroke-width="0.16">5a1</text>
<rect x="458.26" y="71.70" width="4.60" height="60.80" fill="#000" stroke="none" stroke-width="0"/>
<line x1="460.56" y1="71.70" x2="460.56" y2="45.56" stroke="#1c1c1c" stroke-width="1.0"/>
<line x1="458.56" y1="45.56" x2="462.56" y2="45.56" stroke="#1c1c1c" stroke-width="1.0"/>
<rect x="463.06" y="44.84" width="3.20" height="87.66" fill="#a4a4a4" stroke="#000" stroke-width="1.0"/>
<line x1="464.71" y1="44.34" x2="464.71" y2="24.88" stroke="#2a2a2a" stroke-width="1.0"/>
<line x1="462.81" y1="24.88" x2="466.61" y2="24.88" stroke="#2a2a2a" stroke-width="1.0"/>
<text x="466.86" y="136.70" font-size="8.7" text-anchor="end" font-family='"DejaVu Sans Condensed", "DejaVu Sans", "Liberation Sans", sans-serif' font-weight="normal" fill="#111" transform="rotate(-90 466.86 136.70)" stroke="#111" stroke-width="0.16">6a1</text>
<rect x="471.04" y="71.70" width="4.60" height="60.80" fill="#000" stroke="none" stroke-width="0"/>
<line x1="473.34" y1="71.70" x2="473.34" y2="66.53" stroke="#1c1c1c" stroke-width="1.0"/>
<line x1="471.34" y1="66.53" x2="475.34" y2="66.53" stroke="#1c1c1c" stroke-width="1.0"/>
<rect x="475.84" y="85.58" width="3.20" height="46.92" fill="#a4a4a4" stroke="#000" stroke-width="1.0"/>
<line x1="477.49" y1="85.08" x2="477.49" y2="83.86" stroke="#2a2a2a" stroke-width="1.0"/>
<line x1="475.59" y1="83.86" x2="479.39" y2="83.86" stroke="#2a2a2a" stroke-width="1.0"/>
<text x="479.64" y="136.70" font-size="8.7" text-anchor="end" font-family='"DejaVu Sans Condensed", "DejaVu Sans", "Liberation Sans", sans-serif' font-weight="normal" fill="#111" transform="rotate(-90 479.64 136.70)" stroke="#111" stroke-width="0.16">7a1</text>
<rect x="483.82" y="71.70" width="4.60" height="60.80" fill="#000" stroke="none" stroke-width="0"/>
<line x1="486.12" y1="71.70" x2="486.12" y2="68.66" stroke="#1c1c1c" stroke-width="1.0"/>
<line x1="484.12" y1="68.66" x2="488.12" y2="68.66" stroke="#1c1c1c" stroke-width="1.0"/>
<rect x="488.62" y="69.16" width="3.20" height="63.34" fill="#a4a4a4" stroke="#000" stroke-width="1.0"/>
<line x1="490.27" y1="68.66" x2="490.27" y2="63.43" stroke="#2a2a2a" stroke-width="1.0"/>
<line x1="488.37" y1="63.43" x2="492.17" y2="63.43" stroke="#2a2a2a" stroke-width="1.0"/>
<text x="492.42" y="136.70" font-size="8.7" text-anchor="end" font-family='"DejaVu Sans Condensed", "DejaVu Sans", "Liberation Sans", sans-serif' font-weight="normal" fill="#111" transform="rotate(-90 492.42 136.70)" stroke="#111" stroke-width="0.16">9a1</text>
<rect x="496.60" y="71.70" width="4.60" height="60.80" fill="#000" stroke="none" stroke-width="0"/>
<line x1="498.90" y1="71.70" x2="498.90" y2="69.88" stroke="#1c1c1c" stroke-width="1.0"/>
<line x1="496.90" y1="69.88" x2="500.90" y2="69.88" stroke="#1c1c1c" stroke-width="1.0"/>
<rect x="501.40" y="73.42" width="3.20" height="59.08" fill="#a4a4a4" stroke="#000" stroke-width="1.0"/>
<line x1="503.05" y1="72.92" x2="503.05" y2="66.23" stroke="#2a2a2a" stroke-width="1.0"/>
<line x1="501.15" y1="66.23" x2="504.95" y2="66.23" stroke="#2a2a2a" stroke-width="1.0"/>
<text x="505.20" y="136.70" font-size="8.7" text-anchor="end" font-family='"DejaVu Sans Condensed", "DejaVu Sans", "Liberation Sans", sans-serif' font-weight="normal" fill="#111" transform="rotate(-90 505.20 136.70)" stroke="#111" stroke-width="0.16">16a1</text>
<rect x="509.38" y="71.70" width="4.60" height="60.80" fill="#000" stroke="none" stroke-width="0"/>
<line x1="511.68" y1="71.70" x2="511.68" y2="50.42" stroke="#1c1c1c" stroke-width="1.0"/>
<line x1="509.68" y1="50.42" x2="513.68" y2="50.42" stroke="#1c1c1c" stroke-width="1.0"/>
<rect x="514.18" y="75.24" width="3.20" height="57.26" fill="#a4a4a4" stroke="#000" stroke-width="1.0"/>
<line x1="515.83" y1="74.74" x2="515.83" y2="62.58" stroke="#2a2a2a" stroke-width="1.0"/>
<line x1="513.93" y1="62.58" x2="517.73" y2="62.58" stroke="#2a2a2a" stroke-width="1.0"/>
<text x="517.98" y="136.70" font-size="8.7" text-anchor="end" font-family='"DejaVu Sans Condensed", "DejaVu Sans", "Liberation Sans", sans-serif' font-weight="normal" fill="#111" transform="rotate(-90 517.98 136.70)" stroke="#111" stroke-width="0.16">18a1</text>
<line x1="303.20" y1="132.50" x2="518.70" y2="132.50" stroke="#000" stroke-width="1.1"/>
<line x1="306.50" y1="144.50" x2="351.30" y2="144.50" stroke="#111" stroke-width="0.9"/>
<text x="328.60" y="154.50" font-size="8.6" text-anchor="middle" font-family='"DejaVu Sans Condensed", "DejaVu Sans", "Liberation Sans", sans-serif' font-weight="normal" fill="#111" stroke="#111" stroke-width="0.16">1a1</text>
<text x="306.20" y="21.50" font-size="9.8" text-anchor="start" font-family='"DejaVu Sans Condensed", "DejaVu Sans", "Liberation Sans", sans-serif' font-weight="normal" fill="#111" stroke="#111" stroke-width="0.16">WBM</text>
<text x="289.50" y="70.40" font-size="9.75" text-anchor="middle" font-family='"DejaVu Sans Condensed", "DejaVu Sans", "Liberation Sans", sans-serif' font-weight="normal" fill="#111" transform="rotate(-90 289.50 70.40)" stroke="#111" stroke-width="0.16">Fold Expression</text>
<text x="309.60" y="52.10" font-size="7.6" text-anchor="middle" font-family='"DejaVu Sans Condensed", "DejaVu Sans", "Liberation Sans", sans-serif' font-weight="bold" fill="#111" stroke="#111" stroke-width="0.16">*</text>
<text x="322.38" y="52.10" font-size="7.6" text-anchor="middle" font-family='"DejaVu Sans Condensed", "DejaVu Sans", "Liberation Sans", sans-serif' font-weight="bold" fill="#111" stroke="#111" stroke-width="0.16">*</text>
<text x="335.16" y="52.10" font-size="7.6" text-anchor="middle" font-family='"DejaVu Sans Condensed", "DejaVu Sans", "Liberation Sans", sans-serif' font-weight="bold" fill="#111" stroke="#111" stroke-width="0.16">*</text>
<text x="347.94" y="52.10" font-size="7.6" text-anchor="middle" font-family='"DejaVu Sans Condensed", "DejaVu Sans", "Liberation Sans", sans-serif' font-weight="bold" fill="#111" stroke="#111" stroke-width="0.16">*</text>
<text x="360.72" y="52.10" font-size="7.6" text-anchor="middle" font-family='"DejaVu Sans Condensed", "DejaVu Sans", "Liberation Sans", sans-serif' font-weight="bold" fill="#111" stroke="#111" stroke-width="0.16">*</text>
<text x="373.20" y="51.50" font-size="7.2" text-anchor="middle" font-family='"DejaVu Sans Condensed", "DejaVu Sans", "Liberation Sans", sans-serif' font-weight="normal" fill="#111" stroke="#111" stroke-width="0.16">#</text>
<rect x="478.8" y="14.6" width="37.6" height="17.4" fill="#fff" stroke="#000" stroke-width="1.35"/>
<rect x="482.00" y="18.50" width="8.80" height="2.60" fill="#000" stroke="none" stroke-width="0"/>
<rect x="482.50" y="26.10" width="7.80" height="1.90" fill="#999" stroke="#000" stroke-width="1.0"/>
<text x="491.90" y="22.30" font-size="6.8" text-anchor="start" font-family='"Liberation Sans", "DejaVu Sans", sans-serif' font-weight="bold" fill="#111" stroke="#111" stroke-width="0.16">Aldh<tspan dy="-2.2" font-size="5" font-weight="normal" fill="#444">+/-</tspan></text>
<text x="491.90" y="29.60" font-size="6.8" text-anchor="start" font-family='"Liberation Sans", "DejaVu Sans", sans-serif' font-weight="bold" fill="#111" stroke="#111" stroke-width="0.16">Aldh<tspan dy="-2.2" font-size="5" font-weight="normal" fill="#444">-/-</tspan></text>
<text x="271.60" y="13.20" font-size="13.6" text-anchor="start" font-family='"Liberation Sans", "DejaVu Sans", sans-serif' font-weight="bold" fill="#000" stroke="#000" stroke-width="0.16">D</text>
<line x1="303.20" y1="248.93" x2="518.70" y2="248.93" stroke="#333" stroke-width="0.9"/>
<line x1="303.20" y1="208.17" x2="518.70" y2="208.17" stroke="#333" stroke-width="0.9"/>
<line x1="303.20" y1="167.40" x2="518.70" y2="167.40" stroke="#333" stroke-width="1"/>
<line x1="303.20" y1="167.40" x2="303.20" y2="289.70" stroke="#444" stroke-width="1.2"/>
<line x1="518.70" y1="167.40" x2="518.70" y2="289.70" stroke="#8a8a8a" stroke-width="1.0"/>
<line x1="300.70" y1="289.70" x2="303.20" y2="289.70" stroke="#333" stroke-width="0.9"/>
<text x="299.20" y="292.80" font-size="8.6" text-anchor="end" font-family='"DejaVu Sans Condensed", "DejaVu Sans", "Liberation Sans", sans-serif' font-weight="normal" fill="#111" stroke="#111" stroke-width="0.16">0</text>
<line x1="300.70" y1="248.93" x2="303.20" y2="248.93" stroke="#333" stroke-width="0.9"/>
<text x="299.20" y="252.03" font-size="8.6" text-anchor="end" font-family='"DejaVu Sans Condensed", "DejaVu Sans", "Liberation Sans", sans-serif' font-weight="normal" fill="#111" stroke="#111" stroke-width="0.16">1</text>
<line x1="300.70" y1="208.17" x2="303.20" y2="208.17" stroke="#333" stroke-width="0.9"/>
<text x="299.20" y="211.27" font-size="8.6" text-anchor="end" font-family='"DejaVu Sans Condensed", "DejaVu Sans", "Liberation Sans", sans-serif' font-weight="normal" fill="#111" stroke="#111" stroke-width="0.16">2</text>
<line x1="300.70" y1="167.40" x2="303.20" y2="167.40" stroke="#333" stroke-width="0.9"/>
<text x="299.20" y="170.50" font-size="8.6" text-anchor="end" font-family='"DejaVu Sans Condensed", "DejaVu Sans", "Liberation Sans", sans-serif' font-weight="normal" fill="#111" stroke="#111" stroke-width="0.16">3</text>
<rect x="304.90" y="248.93" width="4.60" height="40.77" fill="#000" stroke="none" stroke-width="0"/>
<line x1="307.20" y1="248.93" x2="307.20" y2="229.37" stroke="#1c1c1c" stroke-width="1.0"/>
<line x1="305.20" y1="229.37" x2="309.20" y2="229.37" stroke="#1c1c1c" stroke-width="1.0"/>
<rect x="309.70" y="282.86" width="3.20" height="6.84" fill="#a4a4a4" stroke="#000" stroke-width="1.0"/>
<line x1="311.35" y1="282.36" x2="311.35" y2="277.88" stroke="#2a2a2a" stroke-width="1.0"/>
<line x1="309.45" y1="277.88" x2="313.25" y2="277.88" stroke="#2a2a2a" stroke-width="1.0"/>
<text x="309.40" y="300.10" font-size="8.5" text-anchor="middle" font-family='"DejaVu Sans Condensed", "DejaVu Sans", "Liberation Sans", sans-serif' font-weight="normal" fill="#111" stroke="#111" stroke-width="0.16">A</text>
<rect x="317.68" y="248.93" width="4.60" height="40.77" fill="#000" stroke="none" stroke-width="0"/>
<line x1="319.98" y1="248.93" x2="319.98" y2="217.75" stroke="#1c1c1c" stroke-width="1.0"/>
<line x1="317.98" y1="217.75" x2="321.98" y2="217.75" stroke="#1c1c1c" stroke-width="1.0"/>
<text x="322.18" y="300.10" font-size="8.5" text-anchor="middle" font-family='"DejaVu Sans Condensed", "DejaVu Sans", "Liberation Sans", sans-serif' font-weight="normal" fill="#111" stroke="#111" stroke-width="0.16">B</text>
<rect x="330.46" y="248.93" width="4.60" height="40.77" fill="#000" stroke="none" stroke-width="0"/>
<line x1="332.76" y1="248.93" x2="332.76" y2="229.77" stroke="#1c1c1c" stroke-width="1.0"/>
<line x1="330.76" y1="229.77" x2="334.76" y2="229.77" stroke="#1c1c1c" stroke-width="1.0"/>
<rect x="335.26" y="287.96" width="3.20" height="1.74" fill="#a4a4a4" stroke="#000" stroke-width="1.0"/>
<line x1="336.91" y1="287.46" x2="336.91" y2="285.22" stroke="#2a2a2a" stroke-width="1.0"/>
<line x1="335.01" y1="285.22" x2="338.81" y2="285.22" stroke="#2a2a2a" stroke-width="1.0"/>
<text x="334.96" y="300.10" font-size="8.5" text-anchor="middle" font-family='"DejaVu Sans Condensed", "DejaVu Sans", "Liberation Sans", sans-serif' font-weight="normal" fill="#111" stroke="#111" stroke-width="0.16">C</text>
<rect x="343.24" y="248.93" width="4.60" height="40.77" fill="#000" stroke="none" stroke-width="0"/>
<line x1="345.54" y1="248.93" x2="345.54" y2="231.93" stroke="#1c1c1c" stroke-width="1.0"/>
<line x1="343.54" y1="231.93" x2="347.54" y2="231.93" stroke="#1c1c1c" stroke-width="1.0"/>
<rect x="348.04" y="275.52" width="3.20" height="14.18" fill="#a4a4a4" stroke="#000" stroke-width="1.0"/>
<line x1="349.69" y1="275.02" x2="349.69" y2="273.80" stroke="#2a2a2a" stroke-width="1.0"/>
<line x1="347.79" y1="273.80" x2="351.59" y2="273.80" stroke="#2a2a2a" stroke-width="1.0"/>
<text x="347.74" y="300.10" font-size="8.5" text-anchor="middle" font-family='"DejaVu Sans Condensed", "DejaVu Sans", "Liberation Sans", sans-serif' font-weight="normal" fill="#111" stroke="#111" stroke-width="0.16">D</text>
<rect x="356.02" y="248.93" width="4.60" height="40.77" fill="#000" stroke="none" stroke-width="0"/>
<line x1="358.32" y1="248.93" x2="358.32" y2="239.56" stroke="#1c1c1c" stroke-width="1.0"/>
<line x1="356.32" y1="239.56" x2="360.32" y2="239.56" stroke="#1c1c1c" stroke-width="1.0"/>
<rect x="360.82" y="269.57" width="3.20" height="20.13" fill="#a4a4a4" stroke="#000" stroke-width="1.0"/>
<line x1="362.47" y1="269.07" x2="362.47" y2="266.99" stroke="#2a2a2a" stroke-width="1.0"/>
<line x1="360.57" y1="266.99" x2="364.37" y2="266.99" stroke="#2a2a2a" stroke-width="1.0"/>
<text x="364.62" y="293.90" font-size="8.7" text-anchor="end" font-family='"DejaVu Sans Condensed", "DejaVu Sans", "Liberation Sans", sans-serif' font-weight="normal" fill="#111" transform="rotate(-90 364.62 293.90)" stroke="#111" stroke-width="0.16">1a7</text>
<rect x="368.80" y="248.93" width="4.60" height="40.77" fill="#000" stroke="none" stroke-width="0"/>
<line x1="371.10" y1="248.93" x2="371.10" y2="222.64" stroke="#1c1c1c" stroke-width="1.0"/>
<line x1="369.10" y1="222.64" x2="373.10" y2="222.64" stroke="#1c1c1c" stroke-width="1.0"/>
<rect x="373.60" y="253.71" width="3.20" height="35.99" fill="#a4a4a4" stroke="#000" stroke-width="1.0"/>
<line x1="375.25" y1="253.21" x2="375.25" y2="241.19" stroke="#2a2a2a" stroke-width="1.0"/>
<line x1="373.35" y1="241.19" x2="377.15" y2="241.19" stroke="#2a2a2a" stroke-width="1.0"/>
<text x="377.40" y="293.90" font-size="8.7" text-anchor="end" font-family='"DejaVu Sans Condensed", "DejaVu Sans", "Liberation Sans", sans-serif' font-weight="normal" fill="#111" transform="rotate(-90 377.40 293.90)" stroke="#111" stroke-width="0.16">1b1</text>
<rect x="381.58" y="248.93" width="4.60" height="40.77" fill="#000" stroke="none" stroke-width="0"/>
<line x1="383.88" y1="248.93" x2="383.88" y2="241.19" stroke="#1c1c1c" stroke-width="1.0"/>
<line x1="381.88" y1="241.19" x2="385.88" y2="241.19" stroke="#1c1c1c" stroke-width="1.0"/>
<rect x="386.38" y="256.36" width="3.20" height="33.34" fill="#a4a4a4" stroke="#000" stroke-width="1.0"/>
<line x1="388.03" y1="255.86" x2="388.03" y2="254.03" stroke="#2a2a2a" stroke-width="1.0"/>
<line x1="386.13" y1="254.03" x2="389.93" y2="254.03" stroke="#2a2a2a" stroke-width="1.0"/>
<text x="390.18" y="293.90" font-size="8.7" text-anchor="end" font-family='"DejaVu Sans Condensed", "DejaVu Sans", "Liberation Sans", sans-serif' font-weight="normal" fill="#111" transform="rotate(-90 390.18 293.90)" stroke="#111" stroke-width="0.16">1l1</text>
<rect x="394.36" y="248.93" width="4.60" height="40.77" fill="#000" stroke="none" stroke-width="0"/>
<line x1="396.66" y1="248.93" x2="396.66" y2="239.96" stroke="#1c1c1c" stroke-width="1.0"/>
<line x1="394.66" y1="239.96" x2="398.66" y2="239.96" stroke="#1c1c1c" stroke-width="1.0"/>
<rect x="399.16" y="253.10" width="3.20" height="36.60" fill="#a4a4a4" stroke="#000" stroke-width="1.0"/>
<line x1="400.81" y1="252.60" x2="400.81" y2="251.79" stroke="#2a2a2a" stroke-width="1.0"/>
<line x1="398.91" y1="251.79" x2="402.71" y2="251.79" stroke="#2a2a2a" stroke-width="1.0"/>
<text x="402.96" y="293.90" font-size="8.7" text-anchor="end" font-family='"DejaVu Sans Condensed", "DejaVu Sans", "Liberation Sans", sans-serif' font-weight="normal" fill="#111" transform="rotate(-90 402.96 293.90)" stroke="#111" stroke-width="0.16">2</text>
<rect x="407.14" y="248.93" width="4.60" height="40.77" fill="#000" stroke="none" stroke-width="0"/>
<line x1="409.44" y1="248.93" x2="409.44" y2="246.89" stroke="#1c1c1c" stroke-width="1.0"/>
<line x1="407.44" y1="246.89" x2="411.44" y2="246.89" stroke="#1c1c1c" stroke-width="1.0"/>
<rect x="411.94" y="245.36" width="3.20" height="44.34" fill="#a4a4a4" stroke="#000" stroke-width="1.0"/>
<line x1="413.59" y1="244.86" x2="413.59" y2="238.33" stroke="#2a2a2a" stroke-width="1.0"/>
<line x1="411.69" y1="238.33" x2="415.49" y2="238.33" stroke="#2a2a2a" stroke-width="1.0"/>
<text x="415.74" y="293.90" font-size="8.7" text-anchor="end" font-family='"DejaVu Sans Condensed", "DejaVu Sans", "Liberation Sans", sans-serif' font-weight="normal" fill="#111" transform="rotate(-90 415.74 293.90)" stroke="#111" stroke-width="0.16">3a2</text>
<rect x="419.92" y="248.93" width="4.60" height="40.77" fill="#000" stroke="none" stroke-width="0"/>
<line x1="422.22" y1="248.93" x2="422.22" y2="235.28" stroke="#1c1c1c" stroke-width="1.0"/>
<line x1="420.22" y1="235.28" x2="424.22" y2="235.28" stroke="#1c1c1c" stroke-width="1.0"/>
<rect x="424.72" y="240.06" width="3.20" height="49.64" fill="#a4a4a4" stroke="#000" stroke-width="1.0"/>
<line x1="426.37" y1="239.56" x2="426.37" y2="193.49" stroke="#2a2a2a" stroke-width="1.0"/>
<line x1="424.47" y1="193.49" x2="428.27" y2="193.49" stroke="#2a2a2a" stroke-width="1.0"/>
<text x="428.52" y="293.90" font-size="8.7" text-anchor="end" font-family='"DejaVu Sans Condensed", "DejaVu Sans", "Liberation Sans", sans-serif' font-weight="normal" fill="#111" transform="rotate(-90 428.52 293.90)" stroke="#111" stroke-width="0.16">3b1</text>
<rect x="432.70" y="248.93" width="4.60" height="40.77" fill="#000" stroke="none" stroke-width="0"/>
<line x1="435.00" y1="248.93" x2="435.00" y2="243.63" stroke="#1c1c1c" stroke-width="1.0"/>
<line x1="433.00" y1="243.63" x2="437.00" y2="243.63" stroke="#1c1c1c" stroke-width="1.0"/>
<rect x="437.50" y="246.74" width="3.20" height="42.96" fill="#a4a4a4" stroke="#000" stroke-width="1.0"/>
<line x1="439.15" y1="246.24" x2="439.15" y2="237.52" stroke="#2a2a2a" stroke-width="1.0"/>
<line x1="437.25" y1="237.52" x2="441.05" y2="237.52" stroke="#2a2a2a" stroke-width="1.0"/>
<text x="441.30" y="293.90" font-size="8.7" text-anchor="end" font-family='"DejaVu Sans Condensed", "DejaVu Sans", "Liberation Sans", sans-serif' font-weight="normal" fill="#111" transform="rotate(-90 441.30 293.90)" stroke="#111" stroke-width="0.16">4a1</text>
<rect x="445.48" y="248.93" width="4.60" height="40.77" fill="#000" stroke="none" stroke-width="0"/>
<line x1="447.78" y1="248.93" x2="447.78" y2="244.86" stroke="#1c1c1c" stroke-width="1.0"/>
<line x1="445.78" y1="244.86" x2="449.78" y2="244.86" stroke="#1c1c1c" stroke-width="1.0"/>
<rect x="450.28" y="245.36" width="3.20" height="44.34" fill="#a4a4a4" stroke="#000" stroke-width="1.0"/>
<line x1="451.93" y1="244.86" x2="451.93" y2="237.11" stroke="#2a2a2a" stroke-width="1.0"/>
<line x1="450.03" y1="237.11" x2="453.83" y2="237.11" stroke="#2a2a2a" stroke-width="1.0"/>
<text x="454.08" y="293.90" font-size="8.7" text-anchor="end" font-family='"DejaVu Sans Condensed", "DejaVu Sans", "Liberation Sans", sans-serif' font-weight="normal" fill="#111" transform="rotate(-90 454.08 293.90)" stroke="#111" stroke-width="0.16">5a1</text>
<rect x="458.26" y="248.93" width="4.60" height="40.77" fill="#000" stroke="none" stroke-width="0"/>
<line x1="460.56" y1="248.93" x2="460.56" y2="238.33" stroke="#1c1c1c" stroke-width="1.0"/>
<line x1="458.56" y1="238.33" x2="462.56" y2="238.33" stroke="#1c1c1c" stroke-width="1.0"/>
<rect x="463.06" y="241.69" width="3.20" height="48.01" fill="#a4a4a4" stroke="#000" stroke-width="1.0"/>
<line x1="464.71" y1="241.19" x2="464.71" y2="237.52" stroke="#2a2a2a" stroke-width="1.0"/>
<line x1="462.81" y1="237.52" x2="466.61" y2="237.52" stroke="#2a2a2a" stroke-width="1.0"/>
<text x="466.86" y="293.90" font-size="8.7" text-anchor="end" font-family='"DejaVu Sans Condensed", "DejaVu Sans", "Liberation Sans", sans-serif' font-weight="normal" fill="#111" transform="rotate(-90 466.86 293.90)" stroke="#111" stroke-width="0.16">6a1</text>
<rect x="471.04" y="248.93" width="4.60" height="40.77" fill="#000" stroke="none" stroke-width="0"/>
<line x1="473.34" y1="248.93" x2="473.34" y2="240.54" stroke="#1c1c1c" stroke-width="1.0"/>
<line x1="471.34" y1="240.54" x2="475.34" y2="240.54" stroke="#1c1c1c" stroke-width="1.0"/>
<rect x="475.84" y="251.06" width="3.20" height="38.64" fill="#a4a4a4" stroke="#000" stroke-width="1.0"/>
<line x1="477.49" y1="250.56" x2="477.49" y2="246.49" stroke="#2a2a2a" stroke-width="1.0"/>
<line x1="475.59" y1="246.49" x2="479.39" y2="246.49" stroke="#2a2a2a" stroke-width="1.0"/>
<text x="479.64" y="293.90" font-size="8.7" text-anchor="end" font-family='"DejaVu Sans Condensed", "DejaVu Sans", "Liberation Sans", sans-serif' font-weight="normal" fill="#111" transform="rotate(-90 479.64 293.90)" stroke="#111" stroke-width="0.16">7a1</text>
<rect x="483.82" y="248.93" width="4.60" height="40.77" fill="#000" stroke="none" stroke-width="0"/>
<line x1="486.12" y1="248.93" x2="486.12" y2="242.00" stroke="#1c1c1c" stroke-width="1.0"/>
<line x1="484.12" y1="242.00" x2="488.12" y2="242.00" stroke="#1c1c1c" stroke-width="1.0"/>
<rect x="488.62" y="246.34" width="3.20" height="43.36" fill="#a4a4a4" stroke="#000" stroke-width="1.0"/>
<line x1="490.27" y1="245.84" x2="490.27" y2="241.60" stroke="#2a2a2a" stroke-width="1.0"/>
<line x1="488.37" y1="241.60" x2="492.17" y2="241.60" stroke="#2a2a2a" stroke-width="1.0"/>
<text x="492.42" y="293.90" font-size="8.7" text-anchor="end" font-family='"DejaVu Sans Condensed", "DejaVu Sans", "Liberation Sans", sans-serif' font-weight="normal" fill="#111" transform="rotate(-90 492.42 293.90)" stroke="#111" stroke-width="0.16">9a1</text>
<rect x="496.60" y="248.93" width="4.60" height="40.77" fill="#000" stroke="none" stroke-width="0"/>
<line x1="498.90" y1="248.93" x2="498.90" y2="244.04" stroke="#1c1c1c" stroke-width="1.0"/>
<line x1="496.90" y1="244.04" x2="500.90" y2="244.04" stroke="#1c1c1c" stroke-width="1.0"/>
<rect x="501.40" y="252.29" width="3.20" height="37.41" fill="#a4a4a4" stroke="#000" stroke-width="1.0"/>
<line x1="503.05" y1="251.79" x2="503.05" y2="250.56" stroke="#2a2a2a" stroke-width="1.0"/>
<line x1="501.15" y1="250.56" x2="504.95" y2="250.56" stroke="#2a2a2a" stroke-width="1.0"/>
<text x="505.20" y="293.90" font-size="8.7" text-anchor="end" font-family='"DejaVu Sans Condensed", "DejaVu Sans", "Liberation Sans", sans-serif' font-weight="normal" fill="#111" transform="rotate(-90 505.20 293.90)" stroke="#111" stroke-width="0.16">16a1</text>
<rect x="509.38" y="248.93" width="4.60" height="40.77" fill="#000" stroke="none" stroke-width="0"/>
<line x1="511.68" y1="248.93" x2="511.68" y2="238.33" stroke="#1c1c1c" stroke-width="1.0"/>
<line x1="509.68" y1="238.33" x2="513.68" y2="238.33" stroke="#1c1c1c" stroke-width="1.0"/>
<rect x="514.18" y="249.43" width="3.20" height="40.27" fill="#a4a4a4" stroke="#000" stroke-width="1.0"/>
<line x1="515.83" y1="248.93" x2="515.83" y2="242.61" stroke="#2a2a2a" stroke-width="1.0"/>
<line x1="513.93" y1="242.61" x2="517.73" y2="242.61" stroke="#2a2a2a" stroke-width="1.0"/>
<text x="517.98" y="293.90" font-size="8.7" text-anchor="end" font-family='"DejaVu Sans Condensed", "DejaVu Sans", "Liberation Sans", sans-serif' font-weight="normal" fill="#111" transform="rotate(-90 517.98 293.90)" stroke="#111" stroke-width="0.16">18a1</text>
<line x1="303.20" y1="289.70" x2="518.70" y2="289.70" stroke="#000" stroke-width="1.1"/>
<line x1="306.50" y1="301.70" x2="351.30" y2="301.70" stroke="#111" stroke-width="0.9"/>
<text x="328.60" y="311.70" font-size="8.6" text-anchor="middle" font-family='"DejaVu Sans Condensed", "DejaVu Sans", "Liberation Sans", sans-serif' font-weight="normal" fill="#111" stroke="#111" stroke-width="0.16">1a1</text>
<text x="306.20" y="178.00" font-size="9.8" text-anchor="start" font-family='"DejaVu Sans Condensed", "DejaVu Sans", "Liberation Sans", sans-serif' font-weight="normal" fill="#111" stroke="#111" stroke-width="0.16">HSCs</text>
<text x="289.50" y="226.20" font-size="9.75" text-anchor="middle" font-family='"DejaVu Sans Condensed", "DejaVu Sans", "Liberation Sans", sans-serif' font-weight="normal" fill="#111" transform="rotate(-90 289.50 226.20)" stroke="#111" stroke-width="0.16">Fold Expression</text>
<text x="309.60" y="216.70" font-size="7.6" text-anchor="middle" font-family='"DejaVu Sans Condensed", "DejaVu Sans", "Liberation Sans", sans-serif' font-weight="bold" fill="#111" stroke="#111" stroke-width="0.16">*</text>
<text x="322.38" y="216.70" font-size="7.6" text-anchor="middle" font-family='"DejaVu Sans Condensed", "DejaVu Sans", "Liberation Sans", sans-serif' font-weight="bold" fill="#111" stroke="#111" stroke-width="0.16">*</text>
<text x="335.16" y="216.70" font-size="7.6" text-anchor="middle" font-family='"DejaVu Sans Condensed", "DejaVu Sans", "Liberation Sans", sans-serif' font-weight="bold" fill="#111" stroke="#111" stroke-width="0.16">*</text>
<text x="347.64" y="216.10" font-size="7.2" text-anchor="middle" font-family='"DejaVu Sans Condensed", "DejaVu Sans", "Liberation Sans", sans-serif' font-weight="normal" fill="#111" stroke="#111" stroke-width="0.16">#</text>
<text x="360.72" y="216.70" font-size="7.6" text-anchor="middle" font-family='"DejaVu Sans Condensed", "DejaVu Sans", "Liberation Sans", sans-serif' font-weight="bold" fill="#111" stroke="#111" stroke-width="0.16">*</text>
<rect x="478.8" y="171.0" width="37.6" height="17.4" fill="#fff" stroke="#000" stroke-width="1.35"/>
<rect x="482.00" y="174.90" width="8.80" height="2.60" fill="#000" stroke="none" stroke-width="0"/>
<rect x="482.50" y="182.50" width="7.80" height="1.90" fill="#999" stroke="#000" stroke-width="1.0"/>
<text x="491.90" y="178.70" font-size="6.8" text-anchor="start" font-family='"Liberation Sans", "DejaVu Sans", sans-serif' font-weight="bold" fill="#111" stroke="#111" stroke-width="0.16">Aldh<tspan dy="-2.2" font-size="5" font-weight="normal" fill="#444">+/-</tspan></text>
<text x="491.90" y="186.00" font-size="6.8" text-anchor="start" font-family='"Liberation Sans", "DejaVu Sans", sans-serif' font-weight="bold" fill="#111" stroke="#111" stroke-width="0.16">Aldh<tspan dy="-2.2" font-size="5" font-weight="normal" fill="#444">-/-</tspan></text>
<text x="271.80" y="179.00" font-size="13.6" text-anchor="start" font-family='"Liberation Sans", "DejaVu Sans", sans-serif' font-weight="bold" fill="#000" stroke="#000" stroke-width="0.16">E</text>
</svg>
</body></html>
